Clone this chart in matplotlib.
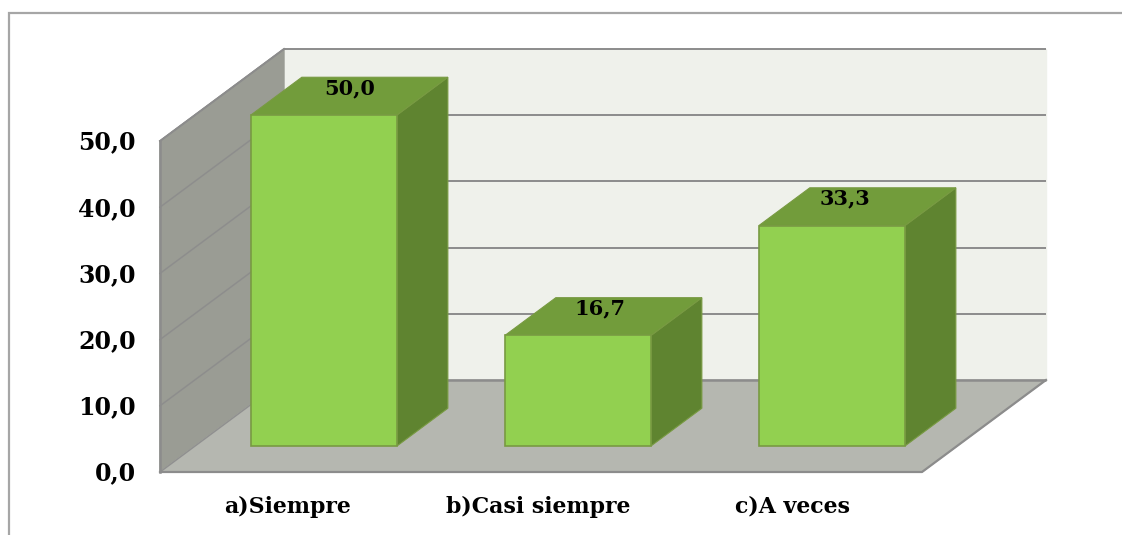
import matplotlib
matplotlib.use("Agg")
import matplotlib.pyplot as plt
from matplotlib.patches import Polygon, Rectangle

categories = ["a)Siempre", "b)Casi siempre", "c)A veces"]
values = [50.0, 16.7, 33.3]
y_ticks = [0, 10, 20, 30, 40, 50]

W, H = 1122, 535
X0, Y0 = 160, 472        # front-left floor corner, pixels
CAT_W = 254              # pixels per category
DX, DY = 124, 92         # depth offset, pixels
V_SCALE = 6.62           # pixels per value unit
BAR_C, BAR_W = 0.22, 0.575
BAR_D0, BAR_D1 = 0.283, 0.693
N = len(categories)
VMAX = max(y_ticks)
LABEL_NUDGE = [0, -3, -12]
CAT_NUDGE = [0, -3, -3]

BACK = "#EFF1EB"; WALL = "#9A9C94"; FLOOR = "#B5B7B0"
FRONT = "#92D050"; TOP = "#729C3B"; SIDE = "#5F8430"; EDGE = "#789A42"
GRID = "#8C8C8C"; FRAME = "#A6A6A6"
FONT = ["DejaVu Serif", "Liberation Serif"]


def P(c, v, d):
    return (X0 + CAT_W * c + DX * d, Y0 - DY * d - V_SCALE * v)


plt.rcParams["font.family"] = FONT
fig = plt.figure(figsize=(W / 100, H / 100), dpi=100)
ax = fig.add_axes([0, 0, 1, 1])
ax.set_xlim(0, W)
ax.set_ylim(H, 0)
ax.axis("off")

# chart frame (right and bottom edges lie beyond the picture)
ax.add_patch(Rectangle((9, 13), 1130, 540, fc="white", ec=FRAME, lw=1.6, zorder=0))


def poly(pts, fc, ec=None, lw=1.0, z=1):
    ax.add_patch(Polygon(pts, closed=True, fc=fc, ec=ec if ec else fc, lw=lw, zorder=z))


# walls and floor
poly([P(0, 0, 1), P(N, 0, 1), P(N, VMAX, 1), P(0, VMAX, 1)], BACK)
poly([P(0, 0, 0), P(0, 0, 1), P(0, VMAX, 1), P(0, VMAX, 0)], WALL)
poly([P(0, 0, 0), P(N, 0, 0), P(N, 0, 1), P(0, 0, 1)], FLOOR)

# gridlines
for t in y_ticks:
    xs, ys = zip(P(0, t, 1), P(N, t, 1))
    ax.plot(xs, ys, color=GRID, lw=1.4 if t else 1.8, zorder=2, solid_capstyle="butt")
    xs, ys = zip(P(0, t, 0), P(0, t, 1))
    ax.plot(xs, ys, color=GRID, lw=1.1, zorder=2, alpha=0.9)
    x, y = P(0, t, 0)
    ax.text(x - 24, y + 1.5, f"{t:.1f}".replace(".", ","), ha="right", va="center",
            fontsize=17, fontweight="bold", color="black", zorder=6)

# axis edges
xs, ys = zip(P(0, 0, 0), P(0, VMAX, 0))
ax.plot(xs, ys, color=GRID, lw=1.8, zorder=3)
xs, ys = zip(P(0, 0, 0), P(N, 0, 0), P(N, 0, 1))
ax.plot(xs, ys, color=GRID, lw=1.6, zorder=3)
xs, ys = zip(P(0, VMAX, 0), P(0, VMAX, 1))
ax.plot(xs, ys, color=GRID, lw=1.4, zorder=3)

# bars
for i, (cat, v) in enumerate(zip(categories, values)):
    c0 = i + BAR_C
    c1 = c0 + BAR_W
    poly([P(c1, 0, BAR_D0), P(c1, 0, BAR_D1), P(c1, v, BAR_D1), P(c1, v, BAR_D0)], SIDE, EDGE, 0.8, 4)
    poly([P(c0, v, BAR_D0), P(c1, v, BAR_D0), P(c1, v, BAR_D1), P(c0, v, BAR_D1)], TOP, EDGE, 0.8, 4)
    poly([P(c0, 0, BAR_D0), P(c1, 0, BAR_D0), P(c1, v, BAR_D0), P(c0, v, BAR_D0)], FRONT, EDGE, 1.2, 5)
    lx, ly = P((c0 + c1) / 2, v, (BAR_D0 + BAR_D1) / 2)
    ax.text(lx + LABEL_NUDGE[i], ly - 8, f"{v:.1f}".replace(".", ","), ha="center", va="center",
            fontsize=15, fontweight="bold", color="black", zorder=6)
    tx, ty = P(i + 0.5, 0, 0)
    ax.text(tx + 0.5 + CAT_NUDGE[i], ty + 35, cat, ha="center", va="center",
            fontsize=15.8, fontweight="bold", color="black", zorder=6)

fig.savefig("out.png", dpi=100)
